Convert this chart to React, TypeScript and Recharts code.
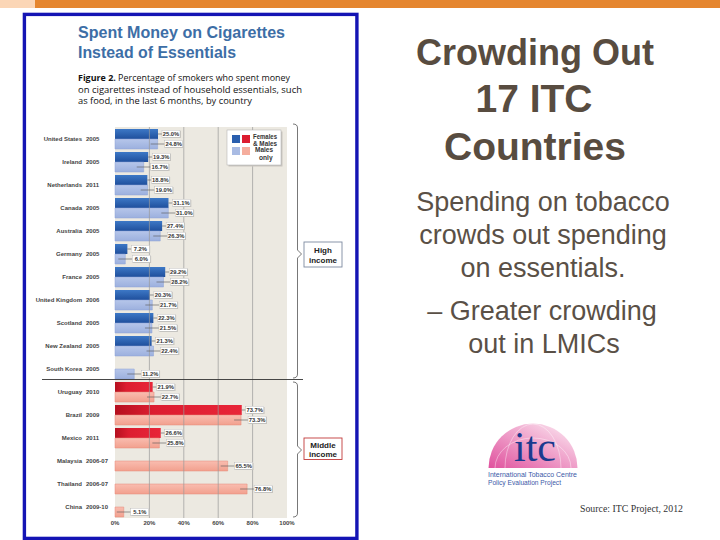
import React from "react";
import { BarChart, Bar, XAxis, YAxis, CartesianGrid, Cell, LabelList, ReferenceLine } from "recharts";

const countries = ["United States", "Ireland", "Netherlands", "Canada", "Australia", "Germany", "France", "United Kingdom", "Scotland", "New Zealand", "South Korea", "Uruguay", "Brazil", "Mexico", "Malaysia", "Thailand", "China"];
const years = ["2005", "2005", "2011", "2005", "2005", "2005", "2005", "2006", "2005", "2005", "2005", "2010", "2009", "2011", "2006-07", "2006-07", "2009-10"];
const femalesAndMales = [25.0, 19.3, 18.8, 31.1, 27.4, 7.2, 29.2, 20.3, 22.3, 21.3, null, 21.9, 73.7, 26.6, null, null, null];
const malesOnly = [24.8, 16.7, 19.0, 31.0, 26.3, 6.0, 28.2, 21.7, 21.5, 22.4, 11.2, 22.7, 73.3, 25.8, 65.5, 76.8, 5.1];
const incomeGroups = ["high", "high", "high", "high", "high", "high", "high", "high", "high", "high", "high", "middle", "middle", "middle", "middle", "middle", "middle"];
const xTicks = [0, 20, 40, 60, 80, 100];
const gridValues = [20, 40, 60, 80];

const data = countries.map((c, i) => ({
  country: c,
  year: years[i],
  fm: femalesAndMales[i],
  m: malesOnly[i],
  group: incomeGroups[i],
}));

const CHART_FONT = "'Liberation Sans', Arial, sans-serif";

const makeLabel = (kind: string) => (props: any) => {
  const { x, y, width, height, value } = props;
  if (value == null) return null;
  const endX = Number(x) + Number(width);
  const cy = Number(y) + Number(height) / 2;
  const bx = endX + (kind === "fm" ? 4 : 7);
  const lx0 = kind === "fm" ? endX : endX - 7;
  return (
    <g>
      <line x1={lx0} y1={cy} x2={bx} y2={cy} stroke="#555" strokeWidth={0.6} />
      <rect x={bx + 0.8} y={cy - 3.0} width={18} height={7} fill="#c4c2bc" />
      <rect x={bx} y={cy - 3.8} width={18} height={7} fill="#fff" stroke="#b5b5b5" strokeWidth={0.4} />
      <text x={bx + 9} y={cy + 2} textAnchor="middle" fontSize={5.8} fontFamily={CHART_FONT} fontWeight="bold" fill="#333">
        {Number(value).toFixed(1)}%
      </text>
    </g>
  );
};

const CategoryTick = (props: any) => {
  const { x, y, payload } = props;
  const i = payload.index;
  return (
    <g>
      <text x={Number(x) - 33} y={Number(y) + 2} textAnchor="end" fontSize={6} fontFamily={CHART_FONT} fontWeight="bold" fill="#444">
        {payload.value}
      </text>
      <text x={Number(x) - 29} y={Number(y) + 2} textAnchor="start" fontSize={6} fontFamily={CHART_FONT} fontWeight="bold" fill="#444">
        {years[i]}
      </text>
    </g>
  );
};

function Background() {
  return (
    <svg width={720} height={540} style={{ position: "absolute", left: 0, top: 0 }}>
      <rect x={0} y={0} width={720} height={540} fill="#fff" />
      <rect x={0} y={0} width={35} height={8} fill="#fbd6b6" />
      <rect x={35} y={0} width={685} height={8} fill="#e5862f" />
      <rect x={24.4} y={14.4} width={332.5} height={524} fill="#fff" stroke="#1414b4" strokeWidth={3.4} />
      <g fontFamily="'Liberation Sans', Arial, sans-serif" fill="#3d6ea6" fontWeight="bold">
        <text x={78} y={37.5} fontSize={17} textLength={207} lengthAdjust="spacingAndGlyphs">Spent Money on Cigarettes</text>
        <text x={78} y={57.5} fontSize={17} textLength={158} lengthAdjust="spacingAndGlyphs">Instead of Essentials</text>
      </g>
      <g fontFamily="'Open Sans', 'Noto Sans', sans-serif" fill="#111" fontSize={9.5}>
        <text x={78} y={81} textLength={212} lengthAdjust="spacingAndGlyphs">
          <tspan fontWeight="bold">Figure 2.</tspan> Percentage of smokers who spent money
        </text>
        <text x={78} y={92.5} textLength={224} lengthAdjust="spacingAndGlyphs">on cigarettes instead of household essentials, such</text>
        <text x={78} y={104} textLength={174} lengthAdjust="spacingAndGlyphs">as food, in the last 6 months, by country</text>
      </g>
      <g fontFamily="'Liberation Sans', Arial, sans-serif" textAnchor="middle">
        <text x={535} y={65} fontSize={36} fontWeight="bold" fill="#584c40">Crowding Out</text>
        <text x={534} y={112} fontSize={39} fontWeight="bold" fill="#584c40">17 ITC</text>
        <text x={535} y={160} fontSize={39} fontWeight="bold" fill="#584c40">Countries</text>
        <text x={543} y={211} fontSize={27} fill="#5a5046">Spending on tobacco</text>
        <text x={543} y={244} fontSize={27} fill="#5a5046">crowds out spending</text>
        <text x={543} y={277} fontSize={27} fill="#5a5046">on essentials.</text>
        <text x={542} y={320} fontSize={27} fill="#5a5046">– Greater crowding</text>
        <text x={544} y={353} fontSize={27} fill="#5a5046">out in LMICs</text>
      </g>
      <defs>
        <linearGradient id="dome" x1="0" y1="1" x2="1" y2="0">
          <stop offset="0" stopColor="#e0529e" />
          <stop offset="0.55" stopColor="#f0a6cd" />
          <stop offset="1" stopColor="#fdf0f6" />
        </linearGradient>
      </defs>
      <path d="M 488.5 468 A 44.5 44.5 0 0 1 577.5 468 Z" fill="url(#dome)" />
      <path d="M 495 468 A 38 30 0 0 1 571 468" fill="none" stroke="#fff" strokeOpacity={0.5} strokeWidth={0.8} />
      <path d="M 505 468 A 28 44 0 0 1 561 468" fill="none" stroke="#fff" strokeOpacity={0.5} strokeWidth={0.8} />
      <text x={535} y={461} textAnchor="middle" fontFamily="'Liberation Serif', serif" fontSize={42} fill="#1b3a8e">itc</text>
      <text x={488} y={477} fontFamily="'Liberation Sans', Arial, sans-serif" fontSize={6.4} fill="#3b5aa8" textLength={89} lengthAdjust="spacingAndGlyphs">International Tobacco Centre</text>
      <text x={488} y={485} fontFamily="'Liberation Sans', Arial, sans-serif" fontSize={6.4} fill="#3b5aa8" textLength={73} lengthAdjust="spacingAndGlyphs">Policy Evaluation Project</text>
      <text x={580} y={512} fontFamily="'Liberation Serif', serif" fontSize={9.5} fill="#333" textLength={103} lengthAdjust="spacingAndGlyphs">Source: ITC Project, 2012</text>
    </svg>
  );
}

function Foreground() {
  return (
    <svg width={720} height={540} style={{ position: "absolute", left: 0, top: 0, pointerEvents: "none" }}>
      <line x1={42} y1={379.5} x2={303} y2={379.5} stroke="#333" strokeWidth={0.9} />
      <path d="M 293 124 Q 297.5 124 297.5 128 L 297.5 250 L 301.5 254 L 297.5 258 L 297.5 374 Q 297.5 378 293 378" fill="none" stroke="#555" strokeWidth={0.8} />
      <path d="M 293 382 Q 297.5 382 297.5 386 L 297.5 446 L 301.5 450 L 297.5 454 L 297.5 513 Q 297.5 517 293 517" fill="none" stroke="#555" strokeWidth={0.8} />
      <rect x={304} y={242} width={38} height={25} fill="#fff" stroke="#7d8aa0" strokeWidth={0.9} />
      <text x={323} y={253} textAnchor="middle" fontFamily={CHART_FONT} fontSize={8} fontWeight="bold" fill="#222">High</text>
      <text x={323} y={263} textAnchor="middle" fontFamily={CHART_FONT} fontSize={8} fontWeight="bold" fill="#222">income</text>
      <rect x={304} y={438} width={38} height={21.5} fill="#fff" stroke="#c23a3a" strokeWidth={0.9} />
      <text x={323} y={447.5} textAnchor="middle" fontFamily={CHART_FONT} fontSize={8} fontWeight="bold" fill="#222">Middle</text>
      <text x={323} y={456.5} textAnchor="middle" fontFamily={CHART_FONT} fontSize={8} fontWeight="bold" fill="#222">income</text>
      <rect x={228.5} y={131.5} width={54} height={35} fill="#c9c6c0" />
      <rect x={227} y={130} width={54} height={35} fill="#fff" stroke="#aaa" strokeWidth={0.5} />
      <rect x={232} y={135} width={8} height={8} fill="#2a5fae" />
      <rect x={242} y={135} width={8} height={8} fill="#dc1d30" />
      <rect x={232} y={147} width={8} height={8} fill="#a9bbe3" />
      <rect x={242} y={147} width={8} height={8} fill="#f5ad9d" />
      <g fontFamily={CHART_FONT} fontSize={6.6} fontWeight="bold" fill="#333">
        <text x={253} y={138.5} textLength={24} lengthAdjust="spacingAndGlyphs">Females</text>
        <text x={253} y={145.5} textLength={24} lengthAdjust="spacingAndGlyphs">&amp; Males</text>
        <text x={255} y={152} textLength={18} lengthAdjust="spacingAndGlyphs">Males</text>
        <text x={259} y={160}>only</text>
      </g>
    </svg>
  );
}

export default function App() {
  return (
    <div style={{ position: "absolute", left: 0, top: 0, width: 720, height: 540, overflow: "hidden", background: "#fff" }}>
      <Background />
      <div style={{ position: "absolute", left: 0, top: 0 }}>
        <BarChart
          width={300}
          height={540}
          data={data}
          layout="vertical"
          margin={{ top: 127, right: 13, bottom: 10, left: 0 }}
          barGap={0}
          barSize={10}
        >
          <defs>
            <linearGradient id="bDark" x1="0" y1="0" x2="0" y2="1">
              <stop offset="0" stopColor="#3d78c6" />
              <stop offset="1" stopColor="#1f4f9c" />
            </linearGradient>
            <linearGradient id="bLight" x1="0" y1="0" x2="0" y2="1">
              <stop offset="0" stopColor="#b6c6ea" />
              <stop offset="1" stopColor="#9cb0de" />
            </linearGradient>
            <linearGradient id="rDark" x1="0" y1="0" x2="1" y2="0">
              <stop offset="0" stopColor="#b5101f" />
              <stop offset="0.3" stopColor="#dc1d30" />
              <stop offset="1" stopColor="#e82538" />
            </linearGradient>
            <linearGradient id="rLight" x1="0" y1="0" x2="0" y2="1">
              <stop offset="0" stopColor="#f9bdb0" />
              <stop offset="1" stopColor="#f2a08e" />
            </linearGradient>
          </defs>
          <CartesianGrid horizontal={false} vertical={false} fill="#ece9e1" />
          {gridValues.map((v) => (
            <ReferenceLine key={`g${v}`} x={v} stroke="#9a9a9a" strokeWidth={0.7} />
          ))}
          <XAxis
            type="number"
            domain={[0, 100]}
            ticks={xTicks}
            tickFormatter={(v: number) => `${v}%`}
            axisLine={false}
            tickLine={false}
            tickSize={0}
            tickMargin={3}
            height={12}
            interval={0}
            tick={{ fontSize: 6, fontFamily: CHART_FONT, fontWeight: "bold", fill: "#444" }}
          />
          <YAxis
            type="category"
            dataKey="country"
            width={115}
            axisLine={false}
            tickLine={false}
            tickSize={0}
            tickMargin={0}
            interval={0}
            tick={<CategoryTick />}
          />
          <Bar dataKey="fm" isAnimationActive={false}>
            {data.map((d, i) => (
              <Cell key={`fm-${i}`} fill={d.group === "high" ? "url(#bDark)" : "url(#rDark)"} />
            ))}
            <LabelList dataKey="fm" content={makeLabel("fm")} />
          </Bar>
          <Bar dataKey="m" isAnimationActive={false} strokeWidth={0.5}>
            {data.map((d, i) => (
              <Cell key={`m-${i}`} fill={d.group === "high" ? "url(#bLight)" : "url(#rLight)"} stroke={d.group === "high" ? "#8ca2d6" : "#e48a78"} />
            ))}
            <LabelList dataKey="m" content={makeLabel("m")} />
          </Bar>
        </BarChart>
      </div>
      <Foreground />
    </div>
  );
}
